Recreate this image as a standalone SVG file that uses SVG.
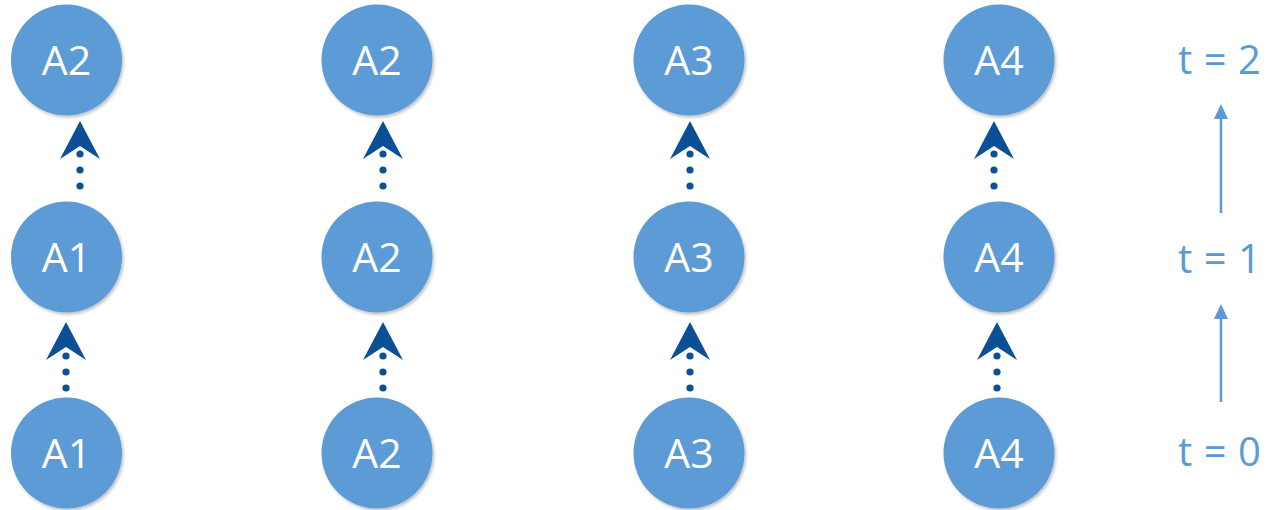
<svg xmlns="http://www.w3.org/2000/svg" width="1271" height="510" viewBox="0 0 1271 510">
  <style>
    .node circle { fill: #5B9BD5; filter: url(#shade); }
    .node text { font-family: "Open Sans", "Liberation Sans", sans-serif; font-size: 41px; fill: #FFFFFF; text-anchor: middle; }
    .dep { fill: #0B5095; }
    .axis line { stroke: #5B9BD5; stroke-width: 2.5; }
    .axis polygon { fill: #5B9BD5; }
    .tlabel { font-family: "Open Sans", "Liberation Sans", sans-serif; font-size: 40px; fill: #5B9BD5; word-spacing: 1px; }
  </style>
  <defs>
    <filter id="shade" x="-20%" y="-20%" width="150%" height="150%">
      <feDropShadow dx="1.5" dy="2" stdDeviation="1.8" flood-color="#000000" flood-opacity="0.25"/>
    </filter>
    <!-- notched arrowhead pointing up, tip at origin -->
    <polygon id="head" points="0,0 20,38 0,25 -20,38"/>
    <g id="dots">
      <circle cx="0" cy="0" r="3.6"/>
      <circle cx="0" cy="16" r="3.6"/>
      <circle cx="0" cy="32" r="3.6"/>
    </g>
  </defs>

  <!-- dependency connectors: dotted line with arrowhead -->
  <g id="connectors">
    <g class="dep"><use href="#head" x="80" y="121"/><use href="#dots" x="80" y="154"/></g>
    <g class="dep"><use href="#head" x="66" y="322"/><use href="#dots" x="66" y="356"/></g>
    <g class="dep"><use href="#head" x="383" y="121"/><use href="#dots" x="383" y="154"/></g>
    <g class="dep"><use href="#head" x="383" y="322"/><use href="#dots" x="383" y="356"/></g>
    <g class="dep"><use href="#head" x="690" y="121"/><use href="#dots" x="690" y="154"/></g>
    <g class="dep"><use href="#head" x="690" y="322"/><use href="#dots" x="690" y="356"/></g>
    <g class="dep"><use href="#head" x="994" y="121"/><use href="#dots" x="994" y="154"/></g>
    <g class="dep"><use href="#head" x="997" y="322"/><use href="#dots" x="997" y="356"/></g>
  </g>

  <!-- column 1 -->
  <g id="c1r2" class="node"><circle cx="66.5" cy="60" r="55.5"/><text x="66.5" y="75">A2</text></g>
  <g id="c1r1" class="node"><circle cx="66.5" cy="257" r="55.5"/><text x="66.5" y="272">A1</text></g>
  <g id="c1r0" class="node"><circle cx="66.5" cy="453" r="55.5"/><text x="66.5" y="468">A1</text></g>

  <!-- column 2 -->
  <g id="c2r2" class="node"><circle cx="377" cy="60" r="55.5"/><text x="377" y="75">A2</text></g>
  <g id="c2r1" class="node"><circle cx="377" cy="257" r="55.5"/><text x="377" y="272">A2</text></g>
  <g id="c2r0" class="node"><circle cx="377" cy="453" r="55.5"/><text x="377" y="468">A2</text></g>

  <!-- column 3 -->
  <g id="c3r2" class="node"><circle cx="689" cy="60" r="55.5"/><text x="689" y="75">A3</text></g>
  <g id="c3r1" class="node"><circle cx="689" cy="257" r="55.5"/><text x="689" y="272">A3</text></g>
  <g id="c3r0" class="node"><circle cx="689" cy="453" r="55.5"/><text x="689" y="468">A3</text></g>

  <!-- column 4 -->
  <g id="c4r2" class="node"><circle cx="999" cy="60" r="55.5"/><text x="999" y="75">A4</text></g>
  <g id="c4r1" class="node"><circle cx="999" cy="257" r="55.5"/><text x="999" y="272">A4</text></g>
  <g id="c4r0" class="node"><circle cx="999" cy="453" r="55.5"/><text x="999" y="468">A4</text></g>

  <!-- time axis -->
  <g id="time-axis" class="axis">
    <line x1="1221" y1="213" x2="1221" y2="116"/>
    <polygon points="1221,104 1228,119 1214,119"/>
    <line x1="1221" y1="402" x2="1221" y2="316"/>
    <polygon points="1221,304 1228,319 1214,319"/>
  </g>
  <g id="time-labels">
    <text class="tlabel" x="1178" y="74">t = 2</text>
    <text class="tlabel" x="1178" y="273">t = 1</text>
    <text class="tlabel" x="1178" y="466">t = 0</text>
  </g>
</svg>
